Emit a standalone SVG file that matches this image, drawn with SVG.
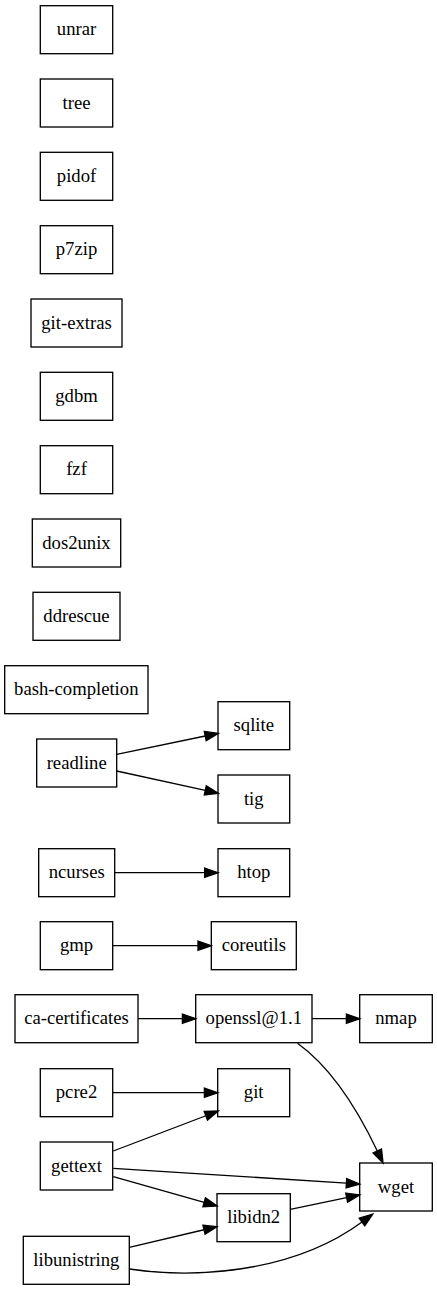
<svg xmlns="http://www.w3.org/2000/svg" width="437" height="1291" viewBox="0 0 437 1291">
<style>
.n rect{fill:#fff;stroke:#000;stroke-width:1.33}
.n text{font-size:18.67px;text-anchor:middle;fill:#000}
.e path{fill:none;stroke:#000;stroke-width:1.33;marker-end:url(#ah)}
</style>
<defs>
<marker id="ah" markerUnits="userSpaceOnUse" markerWidth="16" markerHeight="12" refX="0" refY="0" viewBox="0 -6 16 12" orient="auto" overflow="visible">
<path d="M0,-4.67 L13.33,0 L0,4.67 Z" fill="#000" stroke="#000" stroke-width="1.33"/>
</marker>
</defs>
<rect width="437" height="1291" fill="#fff"/>
<g font-family="Liberation Serif, Times New Roman, DejaVu Serif, serif">
<g id="unrar" class="n"><rect x="40.3" y="5.7" width="72.4" height="48"/><text x="76.5" y="35.3">unrar</text></g>
<g id="tree" class="n"><rect x="40.3" y="79" width="72.4" height="48"/><text x="76.5" y="108.6">tree</text></g>
<g id="pidof" class="n"><rect x="40.3" y="152.3" width="72.4" height="48"/><text x="76.5" y="181.9">pidof</text></g>
<g id="p7zip" class="n"><rect x="40.3" y="225.7" width="72.4" height="48"/><text x="76.5" y="255.3">p7zip</text></g>
<g id="git-extras" class="n"><rect x="31" y="299" width="91" height="48"/><text x="76.5" y="328.6">git-extras</text></g>
<g id="gdbm" class="n"><rect x="40.3" y="372.3" width="72.4" height="48"/><text x="76.5" y="401.9">gdbm</text></g>
<g id="fzf" class="n"><rect x="40.3" y="445.7" width="72.4" height="48"/><text x="76.5" y="475.3">fzf</text></g>
<g id="dos2unix" class="n"><rect x="32.3" y="519" width="88.4" height="48"/><text x="76.5" y="548.6">dos2unix</text></g>
<g id="ddrescue" class="n"><rect x="33" y="592.3" width="87" height="48"/><text x="76.5" y="621.9">ddrescue</text></g>
<g id="bash-completion" class="n"><rect x="4.7" y="665.7" width="143.3" height="48"/><text x="76.3" y="695.3">bash-completion</text></g>
<g id="readline" class="n"><rect x="36.7" y="739" width="80" height="48"/><text x="76.7" y="768.6">readline</text></g>
<g id="sqlite" class="n"><rect x="218" y="701.7" width="71.7" height="48"/><text x="253.8" y="731.3">sqlite</text></g>
<g id="tig" class="n"><rect x="218" y="775" width="71.7" height="48"/><text x="253.8" y="804.6">tig</text></g>
<g id="ncurses" class="n"><rect x="38.7" y="848.7" width="76" height="48"/><text x="76.7" y="878.3">ncurses</text></g>
<g id="htop" class="n"><rect x="218" y="848.7" width="71.7" height="48"/><text x="253.8" y="878.3">htop</text></g>
<g id="gmp" class="n"><rect x="40.3" y="921.7" width="72.4" height="48"/><text x="76.5" y="951.3">gmp</text></g>
<g id="coreutils" class="n"><rect x="211.3" y="921.7" width="85" height="48"/><text x="253.8" y="951.3">coreutils</text></g>
<g id="ca-certificates" class="n"><rect x="15" y="994.7" width="123" height="48"/><text x="76.5" y="1024.3">ca-certificates</text></g>
<g id="openssl" class="n"><rect x="195.7" y="994.7" width="116.3" height="48"/><text x="253.8" y="1024.3">openssl@1.1</text></g>
<g id="nmap" class="n"><rect x="359.7" y="994.7" width="72.6" height="48"/><text x="396" y="1024.3">nmap</text></g>
<g id="pcre2" class="n"><rect x="40.3" y="1068.7" width="72.4" height="48"/><text x="76.5" y="1098.3">pcre2</text></g>
<g id="git" class="n"><rect x="217.7" y="1068.7" width="72" height="48"/><text x="253.7" y="1098.3">git</text></g>
<g id="gettext" class="n"><rect x="40.3" y="1142" width="72.4" height="48"/><text x="76.5" y="1171.6">gettext</text></g>
<g id="wget" class="n"><rect x="359.7" y="1163" width="72.6" height="48"/><text x="396" y="1192.6">wget</text></g>
<g id="libidn2" class="n"><rect x="217" y="1193.7" width="73.3" height="48"/><text x="253.7" y="1223.3">libidn2</text></g>
<g id="libunistring" class="n"><rect x="23.3" y="1236.3" width="106" height="48"/><text x="76.3" y="1265.9">libunistring</text></g>
</g>
<g id="edges" class="e">
<path d="M116.7,754.3 L205.25,736"/>
<path d="M116.7,771 L205.3,790.4"/>
<path d="M114.7,872.7 L204.7,872.7"/>
<path d="M112.7,945.7 L198,945.7"/>
<path d="M138,1018.7 L182.4,1018.7"/>
<path d="M312,1018.7 L346.4,1018.7"/>
<path d="M297.5,1043.3 C325,1063 353,1100 377.3,1151"/>
<path d="M112.7,1092.7 L204.4,1092.7"/>
<path d="M113.3,1151 L205.85,1115.75"/>
<path d="M113.3,1168.3 L346.4,1183.15"/>
<path d="M113.3,1176.7 L204.2,1202.4"/>
<path d="M290.3,1209.3 L346.65,1197.7"/>
<path d="M129.3,1247.3 L204,1229.75"/>
<path d="M129.3,1269 C190,1278 290,1275 362,1222"/>
</g>
</svg>
